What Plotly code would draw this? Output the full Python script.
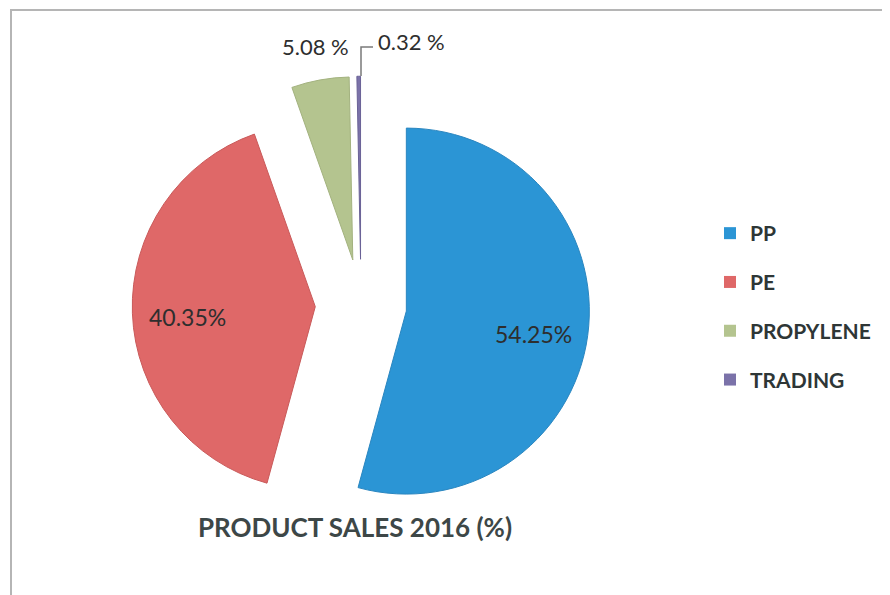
import math
import plotly.graph_objects as go

labels = ["PP", "PE", "PROPYLENE", "TRADING"]
values = [54.25, 40.35, 5.08, 0.32]
title_text = "PRODUCT SALES 2016 (%)"

colors = ["#2b95d5", "#df6868", "#b4c48f", "#7b72a9"]
edge_colors = ["#2a86c0", "#c95a5a", "#a3b27f", "#6a6296"]

# page has an 8px body margin; work in window pixels and convert
OFF = 8
W, H = 890 - OFF, 595 - OFF
FONT = "Lato"
TXT = "#2e2e2e"


def px(x):
    return (x - OFF) / W


def py(y):
    return 1 - (y - OFF) / H


PULL = 0.25
CX, CY, R = 361.0, 305.0, 183.0          # unexploded centre and radius (window px)
half = R * (1 + PULL)

fig = go.Figure()

fig.add_trace(go.Pie(
    labels=labels,
    values=values,
    sort=False,
    direction="clockwise",
    rotation=0,
    pull=[PULL] * len(values),
    marker=dict(colors=colors, line=dict(color=edge_colors, width=1)),
    textinfo="none",
    domain=dict(x=[px(CX - half), px(CX + half)], y=[py(CY + half), py(CY - half)]),
    showlegend=False,
    hoverinfo="label+value",
))

# legend entries (one group each so spacing can match)
for lab, col in zip(labels, colors):
    fig.add_trace(go.Scatter(
        x=[None], y=[None], mode="markers", name=lab, legendgroup=lab,
        marker=dict(symbol="square", size=11, color=col),
    ))

# inside labels for the two big slices, placed along each slice's mid-angle
total = sum(values)
cum = 0.0
for i, v in enumerate(values):
    mid = (cum + v / 2) / total * 2 * math.pi
    cum += v
    if i > 1:
        continue
    dx, dy = math.sin(mid), -math.cos(mid)
    rr = R * PULL + R * 0.70
    fig.add_annotation(x=px(CX + dx * rr), y=py(CY + dy * rr + 6),
                       xref="paper", yref="paper", showarrow=False,
                       xanchor="center", yanchor="middle",
                       text=f"{v:.2f}%", font=dict(family=FONT, size=23, color=TXT))

# outside labels for the small slices
fig.add_annotation(x=px(351), y=py(47), xref="paper", yref="paper",
                   xanchor="right", yanchor="middle", showarrow=False,
                   text=f"{values[2]:.2f} %",
                   font=dict(family=FONT, size=22, color=TXT))
fig.add_annotation(x=px(376), y=py(41), xref="paper", yref="paper",
                   xanchor="left", yanchor="middle", showarrow=False,
                   text=f"{values[3]:.2f} %",
                   font=dict(family=FONT, size=22, color=TXT))

fig.add_shape(type="path", xref="paper", yref="paper",
              path=f"M {px(361)} {py(76)} L {px(361)} {py(47)} L {px(373)} {py(47)}",
              line=dict(color="#7a7a7a", width=1.5))

# chart frame
fig.add_shape(type="line", xref="paper", yref="paper",
              x0=px(10), x1=1, y0=py(10), y1=py(10),
              line=dict(color="#b5b5b5", width=2))
fig.add_shape(type="line", xref="paper", yref="paper",
              x0=px(11), x1=px(11), y0=0, y1=py(10),
              line=dict(color="#b5b5b5", width=2))

fig.update_layout(
    width=W, height=H,
    margin=dict(l=0, r=0, t=0, b=0),
    paper_bgcolor="white", plot_bgcolor="white",
    xaxis=dict(visible=False), yaxis=dict(visible=False),
    title=dict(text=f"<b>{title_text}</b>", x=px(355), y=py(528),
               xanchor="center", yanchor="middle",
               font=dict(family=FONT, size=26, color="#3d4747")),
    legend=dict(x=px(710), y=py(213), xanchor="left", yanchor="top",
                font=dict(family=FONT, size=21, color="#2e3636", weight="bold"),
                tracegroupgap=18.5, itemsizing="constant",
                bgcolor="rgba(0,0,0,0)"),
    showlegend=True,
)

fig.write_html("out.html")
